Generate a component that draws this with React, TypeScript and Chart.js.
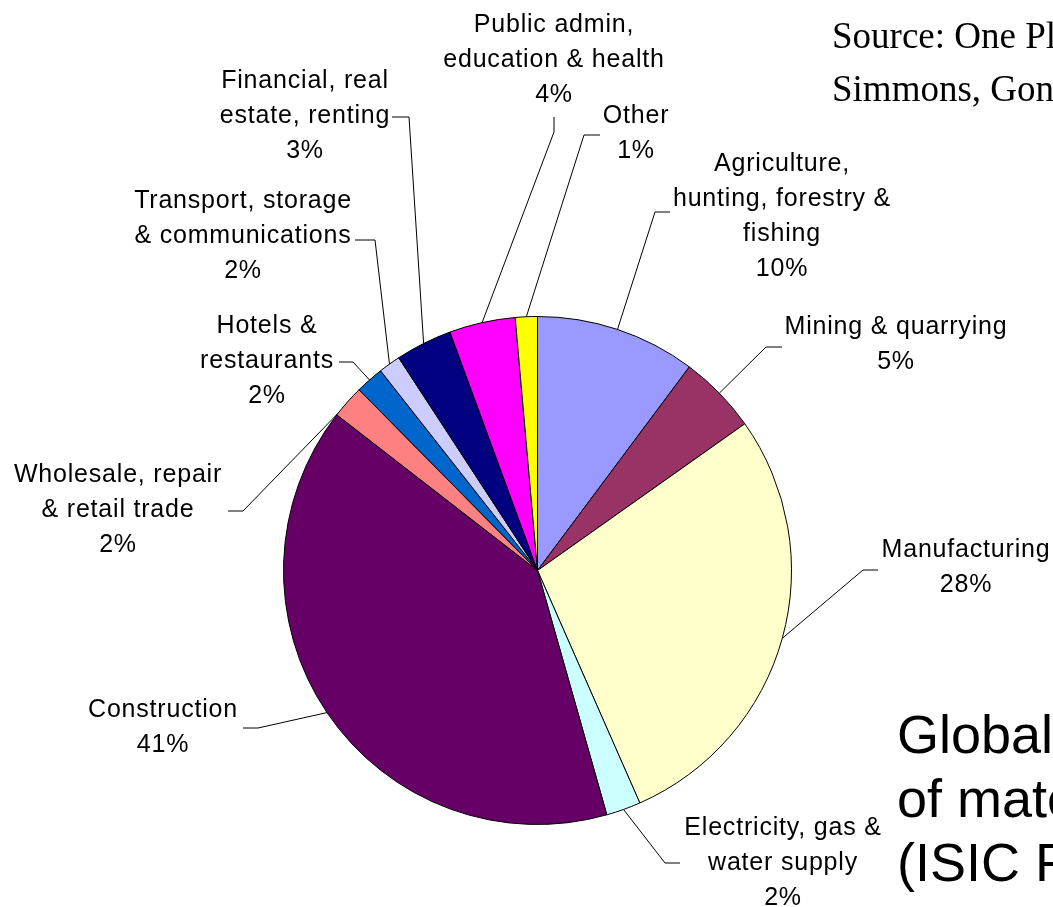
import React, { useEffect, useRef } from 'react';
import { Chart, registerables } from 'chart.js';

Chart.register(...registerables);

// ---- data ----
const categories = [
  'Agriculture, hunting, forestry & fishing',
  'Mining & quarrying',
  'Manufacturing',
  'Electricity, gas & water supply',
  'Construction',
  'Wholesale, repair & retail trade',
  'Hotels & restaurants',
  'Transport, storage & communications',
  'Financial, real estate, renting',
  'Public admin, education & health',
  'Other',
];
const shares = [10.2, 5.0, 28.2, 2.2, 39.9, 2.1, 1.8, 1.4, 3.6, 4.2, 1.4];
const percentLabels = ['10%', '5%', '28%', '2%', '41%', '2%', '2%', '2%', '3%', '4%', '1%'];
const labelLines = [
  ['Agriculture,', 'hunting, forestry &', 'fishing'],
  ['Mining & quarrying'],
  ['Manufacturing'],
  ['Electricity, gas &', 'water supply'],
  ['Construction'],
  ['Wholesale, repair', '& retail trade'],
  ['Hotels &', 'restaurants'],
  ['Transport, storage', '& communications'],
  ['Financial, real', 'estate, renting'],
  ['Public admin,', 'education & health'],
  ['Other'],
];
const sliceColors = [
  '#9999FF', '#993366', '#FFFFCC', '#CCFFFF', '#660066', '#FF8080',
  '#0066CC', '#CCCCFF', '#000080', '#FF00FF', '#FFFF00',
];
const sourceLines = ['Source: One Planet Economy Network', 'Simmons, Gonzalez-Martinez et al.'];
const titleLines = ['Global use', 'of materials', '(ISIC Rev. 3)'];

// ---- label layout (positions only) ----
const labelLayout = [
  { cx: 782, y: 171, elbow: [655, 212], end: [670, 212], frac: 0.5 },
  { cx: 896, y: 334, elbow: [766, 347], end: [782, 347], frac: 0.5 },
  { cx: 966, y: 557, elbow: [863, 570], end: [878, 570], frac: 0.5 },
  { cx: 783, y: 835, elbow: [665, 863], end: [680, 863], frac: 0.5 },
  { cx: 163, y: 717, elbow: [258, 728], end: [243, 728], frac: 0.5 },
  { cx: 118, y: 482, elbow: [243, 511], end: [228, 511], frac: 0.05 },
  { cx: 267, y: 333, elbow: [353, 362], end: [339, 362], frac: 0.5 },
  { cx: 243, y: 208, elbow: [375, 240], end: [355, 240], frac: 0.5 },
  { cx: 305, y: 88, elbow: [409, 117], end: [392, 117], frac: 0.5 },
  { cx: 554, y: 32, elbow: [554, 132], end: [554, 117], frac: 0.5 },
  { cx: 636, y: 123, elbow: [584, 135], end: [600, 135], frac: 0.5 },
];
const LINE_H = 35;

const labelPlugin = {
  id: 'pieLabels',
  afterDraw(chart: any) {
    const ctx = chart.ctx as CanvasRenderingContext2D;
    const meta = chart.getDatasetMeta(0);
    ctx.save();
    // leader lines
    ctx.strokeStyle = '#000';
    ctx.lineWidth = 1;
    meta.data.forEach((arc: any, i: number) => {
      const p = arc.getProps(['x', 'y', 'startAngle', 'endAngle', 'outerRadius'], true);
      const lay = labelLayout[i];
      const a = p.startAngle + (p.endAngle - p.startAngle) * lay.frac;
      const px = p.x + p.outerRadius * Math.cos(a);
      const py = p.y + p.outerRadius * Math.sin(a);
      ctx.beginPath();
      ctx.moveTo(px, py);
      ctx.lineTo(lay.elbow[0], lay.elbow[1]);
      ctx.lineTo(lay.end[0], lay.end[1]);
      ctx.stroke();
    });
    // label text
    ctx.fillStyle = '#000';
    ctx.textAlign = 'center';
    ctx.textBaseline = 'alphabetic';
    ctx.font = '25px "Liberation Sans", Arial, sans-serif';
    (ctx as any).letterSpacing = '0.8px';
    labelLines.forEach((lines, i) => {
      const lay = labelLayout[i];
      const all = [...lines, percentLabels[i]];
      all.forEach((t, k) => ctx.fillText(t, lay.cx, lay.y + k * LINE_H));
    });
    (ctx as any).letterSpacing = '0px';
    // source text
    ctx.textAlign = 'left';
    ctx.font = '37px "Liberation Serif", "Times New Roman", serif';
    sourceLines.forEach((t, k) => ctx.fillText(t, 832, 48 + k * 53));
    // title text
    ctx.font = '54px "Liberation Sans", Arial, sans-serif';
    titleLines.forEach((t, k) => ctx.fillText(t, 897, 753 + k * 64));
    ctx.restore();
  },
};

export default function App() {
  const ref = useRef<HTMLCanvasElement | null>(null);
  useEffect(() => {
    if (!ref.current) return;
    const chart = new Chart(ref.current, {
      type: 'pie',
      data: {
        labels: categories,
        datasets: [
          {
            data: shares,
            backgroundColor: sliceColors,
            borderColor: '#000',
            borderWidth: 1,
          },
        ],
      },
      options: {
        responsive: false,
        animation: false,
        layout: { padding: { left: 283, top: 316, right: 261, bottom: 82 } },
        plugins: {
          legend: { display: false },
          tooltip: { enabled: false },
        },
      },
      plugins: [labelPlugin],
    });
    return () => chart.destroy();
  }, []);
  return (
    <div style={{ position: 'absolute', left: 0, top: 0, width: 1053, height: 907, overflow: 'hidden', background: '#fff' }}>
      <canvas ref={ref} width={1053} height={907} style={{ display: 'block' }} />
    </div>
  );
}
